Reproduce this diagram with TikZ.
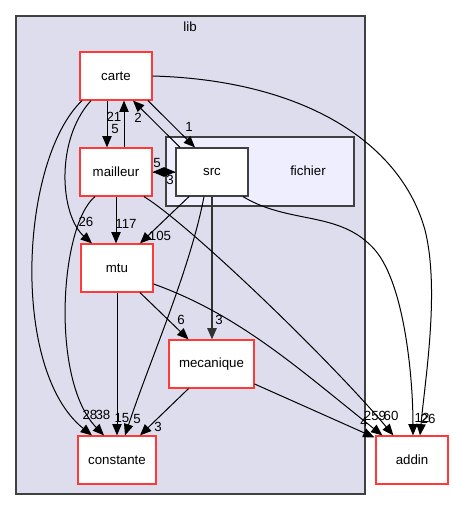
\documentclass[tikz,border=0pt]{standalone}
\usepackage{fontspec}
\setmainfont{Liberation Sans}
\usepackage{xcolor}
\usepackage{tikz}
\usetikzlibrary{calc}
\usetikzlibrary{arrows.meta}

\definecolor{libfill}{HTML}{DDDDEE}
\definecolor{fichierfill}{HTML}{EEEEFF}
\definecolor{dirred}{HTML}{FF3838}
\definecolor{clustergrey}{HTML}{404040}

\tikzset{
  dirbox/.style={draw=dirred, line width=0.9bp, fill=white, minimum width=54bp,
    minimum height=36bp, inner sep=0pt, font=\fontsize{10}{12}\selectfont},
  selfbox/.style={dirbox, draw=clustergrey},
  dep/.style={line width=0.75bp, -{Triangle[length=8.5bp,width=7bp]}},
  deplbl/.style={inner sep=0pt, font=\fontsize{10}{12}\selectfont},
}

\begin{document}
\begin{tikzpicture}[x=0.75bp, y=-0.75bp]
            \useasboundingbox (0,0) rectangle (453,511);

            % Drawing cluster lib
            \draw [clustergrey, line width=0.9bp, fill=libfill] (16,16) rectangle (365,494);%
            \node [deplbl] (liblabel) at (190,27) {lib};%

            % Drawing cluster fichier
            \draw [clustergrey, line width=0.9bp, fill=fichierfill] (166,137) rectangle (354,206);%
            \node [deplbl] (fichierlabel) at (308,171) {fichier};%

            % Directories
            \node [dirbox] (carte) at (116,76) {carte};%
            \node [dirbox] (mailleur) at (116,172) {mailleur};%
            \node [selfbox] (src) at (212,172) {src};%
            \node [dirbox] (mtu) at (117,268) {mtu};%
            \node [dirbox, minimum width=63.75bp] (mecanique) at (211.5,364) {mecanique};%
            \node [dirbox, minimum width=58.5bp] (constante) at (117,460) {constante};%
            \node [dirbox] (addin) at (412,460) {addin};%

            % Drawing dependency carte mailleur
            \draw [dep] ($(carte.south)+(-9,0)$) -- ($(mailleur.north)+(-9,0)$);%
            \node [deplbl] (lcm) at (114,117) {21};%

            % Drawing dependency mailleur carte
            \draw [dep] ($(mailleur.north)+(8,0)$) -- ($(carte.south)+(8,0)$);%
            \node [deplbl] (lmc) at (115,129) {5};%

            % Drawing dependency carte src
            \draw [dep] ($(carte.south)+(32,0)$) -- ($(src.north)+(-17,0)$);%
            \node [deplbl] (lcs) at (189,127) {1};%

            % Drawing dependency src carte
            \draw [dep] ($(src.north)+(-32,0)$) -- ($(carte.south)+(17,0)$);%
            \node [deplbl] (lsc) at (138,118) {2};%

            % Drawing dependency mailleur src
            \draw [dep] (mailleur.east) -- (src.west);%
            \node [deplbl] (lms) at (157,163) {5};%

            % Drawing dependency src mailleur
            \draw [dep] (src.west) -- (mailleur.east);%
            \node [deplbl] (lsm) at (170,180) {3};%

            % Drawing dependency carte mtu
            \draw [dep] ($(carte.south)+(-25,0)$) .. controls (55,140) and (60,215) .. ($(mtu.north)+(-25,0)$);%
            \node [deplbl] (lct) at (86,222) {26};%

            % Drawing dependency carte constante
            \draw [dep] ($(carte.south)+(-34,0)$) .. controls (20,160) and (10,370) .. ($(constante.north)+(-25,0)$);%
            \node [deplbl] (lcc) at (90,415) {28};%

            % Drawing dependency mailleur constante
            \draw [dep] ($(mailleur.south)+(-21,0)$) .. controls (60,225) and (50,380) .. ($(constante.north)+(-13,0)$);%
            \node [deplbl] (lmo) at (103,415) {38};%

            % Drawing dependency mailleur mtu
            \draw [dep] (mailleur.south) -- (mailleur.south |- mtu.north);%
            \node [deplbl] (lmt) at (126,224) {117};%

            % Drawing dependency src mtu
            \draw [dep] ($(src.south)+(-23,0)$) -- ($(mtu.north)+(23,0)$);%
            \node [deplbl] (lst) at (160,236) {105};%

            % Drawing dependency src constante
            \draw [dep] ($(src.south)+(-8,0)$) .. controls (190,270) and (150,360) .. ($(constante.north)+(8,0)$);%
            \node [deplbl] (lso) at (137,419) {5};%

            % Drawing dependency src mecanique
            \draw [dep, line width=1.3bp, black!80] (src.south) -- (src.south |- mecanique.north);%
            \node [deplbl] (lse) at (219,320) {3};%

            % Drawing dependency mtu mecanique
            \draw [dep] ($(mtu.south)+(23,0)$) -- ($(mecanique.north)+(-23,0)$);%
            \node [deplbl] (lte) at (181,320) {6};%

            % Drawing dependency mtu constante
            \draw [dep] (mtu.south) -- (constante.north);%
            \node [deplbl] (lto) at (122,418) {15};%

            % Drawing dependency mecanique constante
            \draw [dep] ($(mecanique.south)+(-23,0)$) -- ($(constante.north)+(23,0)$);%
            \node [deplbl] (leo) at (158,427) {3};%

            % Drawing dependency mecanique addin
            \draw [dep] ($(mecanique.east)+(0,20)$) -- ($(addin.north west)+(-1,2)$);%
            \node [deplbl] (lea) at (364,422) {4};%

            % Drawing dependency mtu addin
            \draw [dep] ($(mtu.east)+(0,16)$) .. controls (240,315) and (300,370) .. ($(addin.north west)+(7,0)$);%
            \node [deplbl] (lta) at (375,416) {259};%

            % Drawing dependency mailleur addin
            \draw [dep] ($(mailleur.south)+(28,0)$) .. controls (190,225) and (330,360) .. ($(addin.north west)+(18,0)$);%
            \node [deplbl] (lma) at (391,416) {60};%

            % Drawing dependency src addin
            \draw [dep] ($(src.south)+(31,0)$) .. controls (290,225) and (340,210) .. (375,250)
              .. controls (405,285) and (413,380) .. ($(addin.north)+(1,0)$);%
            \node [deplbl] (lsa) at (422,418) {12};%

            % Drawing dependency carte addin
            \draw [dep] (carte.east) .. controls (300,80) and (400,140) .. (425,230)
              .. controls (440,290) and (425,380) .. ($(addin.north)+(8,0)$);%
            \node [deplbl] (lca) at (428,419) {26};%
\end{tikzpicture}
\end{document}
